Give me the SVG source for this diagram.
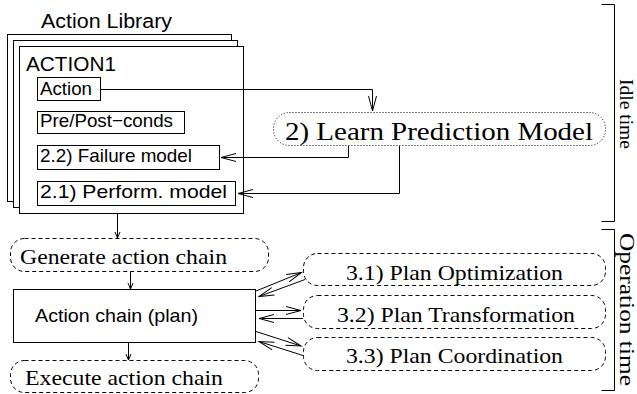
<svg xmlns="http://www.w3.org/2000/svg" width="637" height="394" viewBox="0 0 637 394">
<style>
.sans{font-family:'Liberation Sans',Arial,Helvetica,sans-serif;fill:#000}
.serif{font-family:'Liberation Serif','Times New Roman',Times,serif;fill:#000}
.box{fill:#fff;stroke:#000;stroke-width:1}
.dash{fill:none;stroke:#000;stroke-width:1;stroke-dasharray:4 3}
.dot{fill:none;stroke:#000;stroke-width:1;stroke-dasharray:1 2}
.ln{fill:none;stroke:#000;stroke-width:1}
</style>
<defs>
<marker id="ah" markerUnits="userSpaceOnUse" orient="auto" markerWidth="16" markerHeight="10" refX="15" refY="5" overflow="visible"><path d="M0,1 L15,5 L0,9" fill="none" stroke="#000" stroke-width="1"/></marker>
<marker id="as" markerUnits="userSpaceOnUse" orient="auto" markerWidth="7" markerHeight="6" refX="6" refY="2.5" overflow="visible"><path d="M0,0 L6,2.5 L0,5" fill="none" stroke="#000" stroke-width="1"/></marker>
</defs>
<rect width="637" height="394" fill="#fff"/>
<g id="library">
<text class="sans" x="41" y="28" font-size="20" textLength="131" lengthAdjust="spacingAndGlyphs">Action Library</text>
<rect class="box" x="7.5" y="34.5" width="224" height="167"/>
<rect class="box" x="13.5" y="40.5" width="224" height="167"/>
<rect class="box" x="19.5" y="46.5" width="224" height="167"/>
<text class="sans" x="26" y="70.5" font-size="21" textLength="90" lengthAdjust="spacingAndGlyphs">ACTION1</text>
</g>
<g id="action"><rect class="box" x="37.5" y="77.5" width="63" height="23"/><text class="sans" x="40" y="95" font-size="18.5" textLength="52" lengthAdjust="spacingAndGlyphs">Action</text></g>
<g id="prepost"><rect class="box" x="37.5" y="111.5" width="147" height="22"/><text class="sans" x="40" y="126.5" font-size="18.5" textLength="133" lengthAdjust="spacingAndGlyphs">Pre/Post−conds</text></g>
<g id="failure"><rect class="box" x="37.5" y="145.5" width="182" height="24"/><text class="sans" x="40" y="162" font-size="18.5" textLength="152" lengthAdjust="spacingAndGlyphs">2.2) Failure model</text></g>
<g id="perform"><rect class="box" x="37.5" y="181.5" width="198" height="24"/><text class="sans" x="40" y="198" font-size="18.5" textLength="187" lengthAdjust="spacingAndGlyphs">2.1) Perform. model</text></g>
<g id="learn"><rect class="dot" x="273.5" y="112.5" width="332" height="33" rx="16" ry="16"/><text class="serif" x="285" y="139.5" font-size="26" textLength="308" lengthAdjust="spacingAndGlyphs">2) Learn Prediction Model</text></g>
<g id="generate"><rect class="dash" x="10.5" y="238.5" width="258" height="33" rx="14" ry="14"/><text class="serif" x="20" y="263.5" font-size="22" textLength="207" lengthAdjust="spacingAndGlyphs">Generate action chain</text></g>
<g id="chain"><rect class="box" x="13.5" y="289.5" width="242" height="53"/><text class="sans" x="35" y="321.5" font-size="19" textLength="163" lengthAdjust="spacingAndGlyphs">Action chain (plan)</text></g>
<g id="execute"><rect class="dash" x="10.5" y="360.5" width="248" height="32" rx="14" ry="14"/><text class="serif" x="25" y="385" font-size="22" textLength="198" lengthAdjust="spacingAndGlyphs">Execute action chain</text></g>
<g id="opt"><rect class="dash" x="303.5" y="253.5" width="302" height="32" rx="14" ry="14"/><text class="serif" x="346" y="280" font-size="22" textLength="217" lengthAdjust="spacingAndGlyphs">3.1) Plan Optimization</text></g>
<g id="trans"><rect class="dash" x="303.5" y="295.5" width="302" height="33" rx="14" ry="14"/><text class="serif" x="337" y="321.5" font-size="22" textLength="238" lengthAdjust="spacingAndGlyphs">3.2) Plan Transformation</text></g>
<g id="coord"><rect class="dash" x="303.5" y="337.5" width="302" height="33" rx="14" ry="14"/><text class="serif" x="346" y="362.5" font-size="22" textLength="217" lengthAdjust="spacingAndGlyphs">3.3) Plan Coordination</text></g>
<g id="idle"><path class="ln" d="M601.5,4.5 H614.5 V221.5 H601.5"/><text class="serif" transform="translate(620,79) rotate(90)" font-size="19" textLength="70" lengthAdjust="spacingAndGlyphs">Idle time</text></g>
<g id="operation"><path class="ln" d="M601.5,229.5 H614.5 V390.5 H601.5"/><text class="serif" transform="translate(620,233) rotate(90)" font-size="20" textLength="153" lengthAdjust="spacingAndGlyphs">Operation time</text></g>
<g id="connectors">
<path class="ln" d="M100.5,89.5 H372.5 V111" marker-end="url(#ah)"/>
<path class="ln" d="M348.5,146 V157.5 H221" marker-end="url(#ah)"/>
<path class="ln" d="M399.5,146 V193.5 H238" marker-end="url(#ah)"/>
<path class="ln" d="M117.5,214 V238" marker-end="url(#as)"/>
<path class="ln" d="M130.5,272 V289" marker-end="url(#as)"/>
<path class="ln" d="M128.5,343 V360" marker-end="url(#as)"/>
<path class="ln" d="M256,291 L301.5,272.5" marker-end="url(#ah)"/>
<path class="ln" d="M305,279.5 L259,296.5" marker-end="url(#ah)"/>
<path class="ln" d="M256,310.5 H301" marker-end="url(#ah)"/>
<path class="ln" d="M303,318.5 H259" marker-end="url(#ah)"/>
<path class="ln" d="M256,331.5 L301,346" marker-end="url(#ah)"/>
<path class="ln" d="M303,355.5 L259,341.5" marker-end="url(#ah)"/>
</g>
</svg>
